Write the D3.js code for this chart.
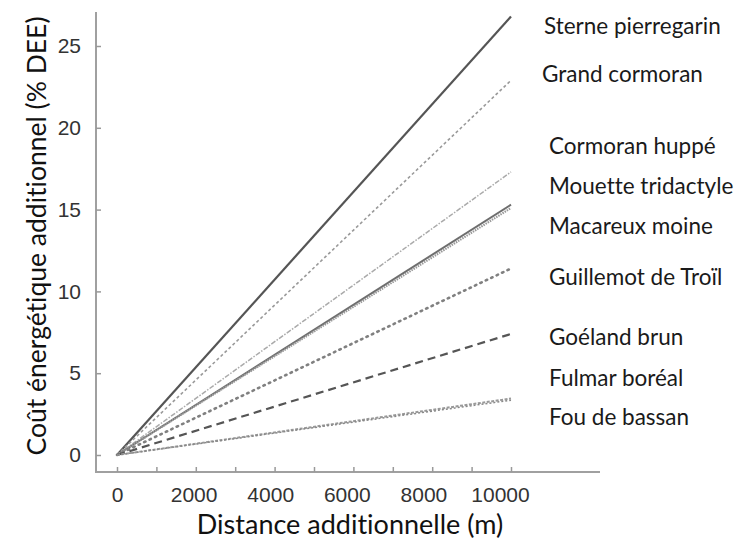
<!DOCTYPE html>
<html><head><meta charset="utf-8">
<script src="https://cdn.jsdelivr.net/npm/d3@7/dist/d3.min.js"></script>
<style>body{margin:0;background:#fff} text{font-variant-ligatures:none}</style>
</head><body>
<svg id="c" width="735" height="548"></svg>
<script>
const distances = [0, 10000];
const species = ["Sterne pierregarin","Grand cormoran","Cormoran huppé","Mouette tridactyle","Macareux moine","Guillemot de Troïl","Goéland brun","Fulmar boréal","Fou de bassan"];
const costAt0 = [0,0,0,0,0,0,0,0,0];
const costAt10000 = [26.8, 22.9, 17.3, 15.3, 15.1, 11.4, 7.4, 3.45, 3.35];
const xTicks = [0,1000,2000,3000,4000,5000,6000,7000,8000,9000,10000];
const xTickLabels = [0,2000,4000,6000,8000,10000];
const yTicks = [0,5,10,15,20,25];
const labelY = [26, 74, 146, 186, 226, 277, 337, 378, 417];

const styles = [
  {c:"#555", w:2.2, d:null},
  {c:"#999", w:1.6, d:"3,2.5"},
  {c:"#aaa", w:1.5, d:"5,1.5,1.5,1.5"},
  {c:"#6e6e6e", w:2, d:null},
  {c:"#9a9a9a", w:2.2, d:"1.5,1"},
  {c:"#808080", w:2.6, d:"1.5,4.5"},
  {c:"#555", w:2.2, d:"8,5"},
  {c:"#999", w:2, d:"3,1.5"},
  {c:"#888", w:1.5, d:"2,2"}
];

const svg = d3.select("#c");
const x = d3.scaleLinear().domain([0,10000]).range([117,511]);
const xLab = d3.scaleLinear().domain([0,10000]).range([117,500]);
const y = d3.scaleLinear().domain([0,25]).range([455,46]);
const tickFont = "Liberation Sans, Arial, sans-serif";
const textFont = "Lato, 'Open Sans', sans-serif";

// axis lines
svg.append("line").attr("x1",96).attr("x2",96).attr("y1",12).attr("y2",472).attr("stroke","#a0a0a0").attr("stroke-width",2);
svg.append("line").attr("x1",95).attr("x2",600).attr("y1",472).attr("y2",472).attr("stroke","#a0a0a0").attr("stroke-width",2);

const yAx = svg.append("g").attr("transform","translate(96,0)")
  .call(d3.axisLeft(y).tickValues(yTicks).tickSizeInner(-5).tickSizeOuter(0).tickPadding(15).tickFormat(d3.format("d")));
yAx.select(".domain").remove();
yAx.selectAll("line").attr("stroke","#999").attr("stroke-width",1.5);
yAx.selectAll("text").attr("font-family",tickFont).attr("font-size",21).attr("fill","#333");

const xAx = svg.append("g").attr("transform","translate(0,472)")
  .call(d3.axisBottom(x).tickValues(xTicks).tickSizeInner(-5).tickSizeOuter(0).tickFormat(""));
xAx.select(".domain").remove();
xAx.selectAll("line").attr("stroke","#999").attr("stroke-width",1.5);

const xAxL = svg.append("g").attr("transform","translate(0,472)")
  .call(d3.axisBottom(xLab).tickValues(xTickLabels).tickSize(0).tickPadding(15).tickFormat(d3.format("d")));
xAxL.select(".domain").remove();
xAxL.selectAll("text").attr("font-family",tickFont).attr("font-size",21).attr("fill","#333");

// lines
const line = d3.line().x(d=>x(d[0])).y(d=>y(d[1]));
species.forEach((s,i)=>{
  const pts = distances.map((dd,j)=>[dd, j===0?costAt0[i]:costAt10000[i]]);
  const st = styles[i];
  svg.append("path").datum(pts).attr("d",line).attr("fill","none")
    .attr("stroke",st.c).attr("stroke-width",st.w)
    .attr("stroke-dasharray",st.d).attr("stroke-linecap", i===5?"round":"butt");
});

// labels
species.forEach((s,i)=>{
  svg.append("text").attr("x", i===0?544:(i===1?542:549)).attr("y",labelY[i]).attr("dy","0.35em")
    .attr("font-family",textFont).attr("font-size",22.5).attr("fill","#1a1a1a").text(s);
});

// axis titles
svg.append("text").attr("x",350).attr("y",534).attr("text-anchor","middle")
  .attr("font-family",textFont).attr("font-size",27).attr("fill","#111").text("Distance additionnelle (m)");
svg.append("text").attr("transform","translate(37,236) rotate(-90)").attr("text-anchor","middle").attr("dy","0.35em")
  .attr("font-family",textFont).attr("font-size",26.5).attr("fill","#111").text("Coût énergétique additionnel (% DEE)");
</script>
</body></html>
